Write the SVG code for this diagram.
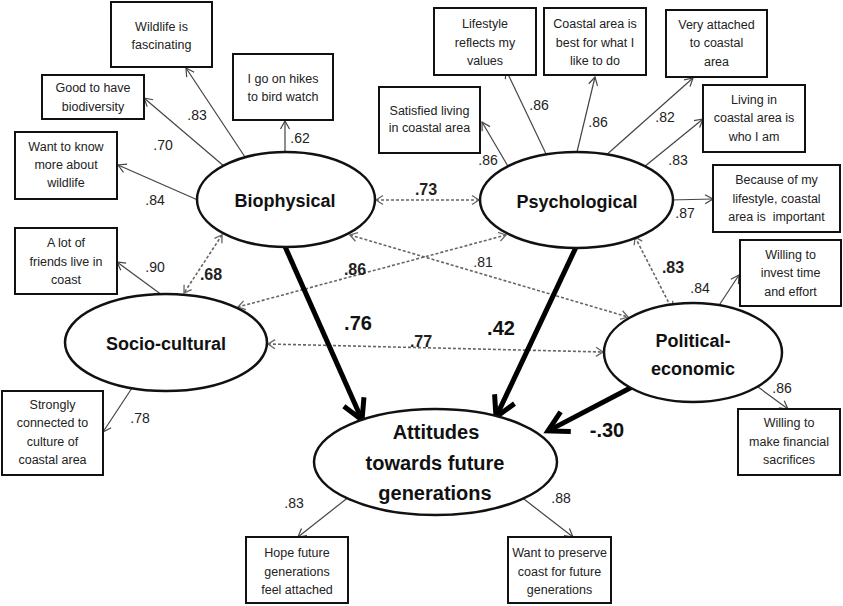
<svg xmlns="http://www.w3.org/2000/svg" width="843" height="606" viewBox="0 0 843 606">
<style>
.box{fill:#fff;stroke:#111;stroke-width:2}
.ell{fill:#fff;stroke:#111;stroke-width:2.5}
.bt{font-family:"Liberation Sans",Arial,sans-serif;font-size:12.5px;fill:#222;text-anchor:middle}
.lt{font-family:"Liberation Sans",Arial,sans-serif;font-size:18px;font-weight:bold;fill:#111;text-anchor:middle}
.at{font-family:"Liberation Sans",Arial,sans-serif;font-size:20px;font-weight:bold;fill:#111;text-anchor:middle}
.num{font-family:"Liberation Sans",Arial,sans-serif;font-size:14px;fill:#222;text-anchor:middle}
.cb{font-family:"Liberation Sans",Arial,sans-serif;font-size:16px;font-weight:bold;fill:#222;text-anchor:middle}
.sb{font-family:"Liberation Sans",Arial,sans-serif;font-size:20px;font-weight:bold;fill:#111;text-anchor:middle}
.thin{stroke:#444;stroke-width:1.2;fill:none;marker-end:url(#ah)}
.dot{stroke:#666;stroke-width:1.6;stroke-dasharray:3 2;fill:none;marker-start:url(#dh);marker-end:url(#dh)}
.thick{stroke:#000;stroke-width:5;fill:none;marker-end:url(#th)}
</style>
<defs>
<marker id="ah" markerUnits="userSpaceOnUse" markerWidth="14" markerHeight="14" viewBox="-11 -7 14 14" refX="0" refY="0" orient="auto">
<path d="M-8,-4.5 L0,0 L-8,4.5" fill="none" stroke="#444" stroke-width="1.2"/>
</marker>
<marker id="dh" markerUnits="userSpaceOnUse" markerWidth="14" markerHeight="14" viewBox="-11 -7 14 14" refX="0" refY="0" orient="auto-start-reverse">
<path d="M-7,-4.5 L0,0 L-7,4.5" fill="none" stroke="#666" stroke-width="1.3"/>
</marker>
<marker id="th" markerUnits="userSpaceOnUse" markerWidth="34" markerHeight="34" viewBox="-26 -17 34 34" refX="-4" refY="0" orient="auto">
<path d="M-20,-11 L0,0 L-20,11" fill="none" stroke="#000" stroke-width="5"/>
</marker>
</defs>
<rect width="843" height="606" fill="#fff"/>

<g id="connectors">
<line class="thin" x1="247" y1="160" x2="186" y2="68"/>
<line class="thin" x1="225" y1="167" x2="144" y2="98"/>
<line class="thin" x1="200" y1="201" x2="118" y2="165"/>
<line class="thin" x1="285" y1="155" x2="285" y2="121"/>
<line class="thin" x1="509" y1="168" x2="482" y2="122"/>
<line class="thin" x1="547" y1="156" x2="506" y2="70"/>
<line class="thin" x1="576" y1="156" x2="595" y2="77"/>
<line class="thin" x1="604" y1="157" x2="693" y2="78"/>
<line class="thin" x1="644" y1="167" x2="703" y2="119"/>
<line class="thin" x1="670" y1="200" x2="713" y2="199"/>
<line class="thin" x1="166" y1="298" x2="117" y2="262"/>
<line class="thin" x1="132" y1="388" x2="103" y2="432"/>
<line class="thin" x1="716" y1="310" x2="739" y2="275"/>
<line class="thin" x1="754" y1="384" x2="788" y2="409"/>
<line class="thin" x1="350" y1="496" x2="298" y2="537"/>
<line class="thin" x1="520" y1="496" x2="573" y2="537"/>

<line class="dot" x1="376" y1="200" x2="479" y2="200"/>
<line class="dot" x1="222" y1="235" x2="184" y2="293"/>
<line class="dot" x1="506" y1="235" x2="238" y2="307"/>
<line class="dot" x1="350" y1="235" x2="628" y2="317"/>
<line class="dot" x1="268" y1="344" x2="603" y2="352"/>
<line class="dot" x1="635" y1="237" x2="672" y2="309"/>

<line class="thick" x1="283" y1="242" x2="360.4" y2="416.3"/>
<line class="thick" x1="578" y1="243" x2="497.7" y2="413.4"/>
<line class="thick" x1="634" y1="386" x2="551.5" y2="429.1"/>
</g>

<g id="labels">
<text class="num" x="197" y="120">.83</text>
<text class="num" x="163" y="150">.70</text>
<text class="num" x="155" y="205">.84</text>
<text class="num" x="300" y="143">.62</text>
<text class="num" x="488" y="165">.86</text>
<text class="num" x="539" y="110">.86</text>
<text class="num" x="598" y="127">.86</text>
<text class="num" x="665" y="122">.82</text>
<text class="num" x="678" y="165">.83</text>
<text class="num" x="685" y="218">.87</text>
<text class="num" x="155" y="272">.90</text>
<text class="num" x="140" y="423">.78</text>
<text class="num" x="700" y="293">.84</text>
<text class="num" x="782" y="393">.86</text>
<text class="num" x="294" y="508">.83</text>
<text class="num" x="561" y="503">.88</text>
<text class="cb" x="426" y="195">.73</text>
<text class="cb" x="211" y="280">.68</text>
<text class="cb" x="355" y="275">.86</text>
<text class="num" x="483" y="267">.81</text>
<text class="cb" x="421" y="347">.77</text>
<text class="cb" x="673" y="273">.83</text>
<text class="sb" x="358" y="330">.76</text>
<text class="sb" x="501" y="335">.42</text>
<text class="sb" x="607" y="437">-.30</text>
</g>

<g id="biophysical"><ellipse class="ell" cx="286" cy="199.5" rx="89" ry="47.5"/><text class="lt" x="285" y="207">Biophysical</text></g>
<g id="psychological"><ellipse class="ell" cx="576.5" cy="200" rx="96.5" ry="48"/><text class="lt" x="577" y="208">Psychological</text></g>
<g id="socio-cultural"><ellipse class="ell" cx="166" cy="342.5" rx="101" ry="48.5"/><text class="lt" x="166" y="350">Socio-cultural</text></g>
<g id="political-economic"><ellipse class="ell" cx="693" cy="352.5" rx="89" ry="49.5"/><text class="lt" x="693" y="347">Political-</text><text class="lt" x="693" y="375">economic</text></g>
<g id="attitudes"><ellipse class="ell" cx="435.5" cy="462" rx="121.5" ry="53"/><text class="at" x="436" y="439">Attitudes</text><text class="at" x="435" y="470">towards future</text><text class="at" x="435" y="500">generations</text></g>

<g id="wildlife-fascinating"><rect class="box" x="111" y="2" width="101" height="65"/><text class="bt" x="161.5" y="31">Wildlife is</text><text class="bt" x="161.5" y="49">fascinating</text></g>
<g id="good-biodiversity"><rect class="box" x="42" y="75" width="102" height="44"/><text class="bt" x="93" y="92">Good to have</text><text class="bt" x="93" y="111">biodiversity</text></g>
<g id="bird-watch"><rect class="box" x="233" y="54" width="100" height="66"/><text class="bt" x="283" y="83">I go on hikes</text><text class="bt" x="283" y="101">to bird watch</text></g>
<g id="know-wildlife"><rect class="box" x="15" y="132" width="102" height="67"/><text class="bt" x="66" y="151">Want to know</text><text class="bt" x="66" y="169">more about</text><text class="bt" x="66" y="187">wildlife</text></g>
<g id="lifestyle-values"><rect class="box" x="434" y="8" width="102" height="67"/><text class="bt" x="485" y="28">Lifestyle</text><text class="bt" x="485" y="47">reflects my</text><text class="bt" x="485" y="65">values</text></g>
<g id="coastal-best"><rect class="box" x="544" y="8" width="102" height="67"/><text class="bt" x="595" y="28">Coastal area is</text><text class="bt" x="595" y="47">best for what I</text><text class="bt" x="595" y="65">like to do</text></g>
<g id="very-attached"><rect class="box" x="666" y="10" width="101" height="67"/><text class="bt" x="716.5" y="29">Very attached</text><text class="bt" x="716.5" y="47">to coastal</text><text class="bt" x="716.5" y="66">area</text></g>
<g id="satisfied-living"><rect class="box" x="379" y="87" width="101" height="66"/><text class="bt" x="429.5" y="115">Satisfied living</text><text class="bt" x="429.5" y="132">in coastal area</text></g>
<g id="living-who"><rect class="box" x="703" y="85" width="102" height="67"/><text class="bt" x="754" y="104">Living in</text><text class="bt" x="754" y="122">coastal area is</text><text class="bt" x="754" y="141">who I am</text></g>
<g id="because-lifestyle"><rect class="box" x="713" y="165" width="127" height="67"/><text class="bt" x="776.5" y="184">Because of my</text><text class="bt" x="776.5" y="203">lifestyle, coastal</text><text class="bt" x="776.5" y="221" xml:space="preserve">area is  important</text></g>
<g id="invest-time"><rect class="box" x="740" y="240" width="101" height="66"/><text class="bt" x="790.5" y="259">Willing to</text><text class="bt" x="790.5" y="277">invest time</text><text class="bt" x="790.5" y="296">and effort</text></g>
<g id="financial-sacrifices"><rect class="box" x="738" y="409" width="102" height="66"/><text class="bt" x="789" y="427">Willing to</text><text class="bt" x="789" y="446">make financial</text><text class="bt" x="789" y="464">sacrifices</text></g>
<g id="friends-coast"><rect class="box" x="15" y="228" width="102" height="66"/><text class="bt" x="66" y="247">A lot of</text><text class="bt" x="66" y="266">friends live in</text><text class="bt" x="66" y="284">coast</text></g>
<g id="culture-coastal"><rect class="box" x="2" y="391" width="101" height="84"/><text class="bt" x="52.5" y="409">Strongly</text><text class="bt" x="52.5" y="427">connected to</text><text class="bt" x="52.5" y="446">culture of</text><text class="bt" x="52.5" y="464">coastal area</text></g>
<g id="hope-future"><rect class="box" x="246" y="537" width="102" height="66"/><text class="bt" x="297" y="557">Hope future</text><text class="bt" x="297" y="576">generations</text><text class="bt" x="297" y="594">feel attached</text></g>
<g id="preserve-coast"><rect class="box" x="508" y="537" width="103" height="66"/><text class="bt" x="559.5" y="557">Want to preserve</text><text class="bt" x="559.5" y="576">coast for future</text><text class="bt" x="559.5" y="594">generations</text></g>
</svg>
